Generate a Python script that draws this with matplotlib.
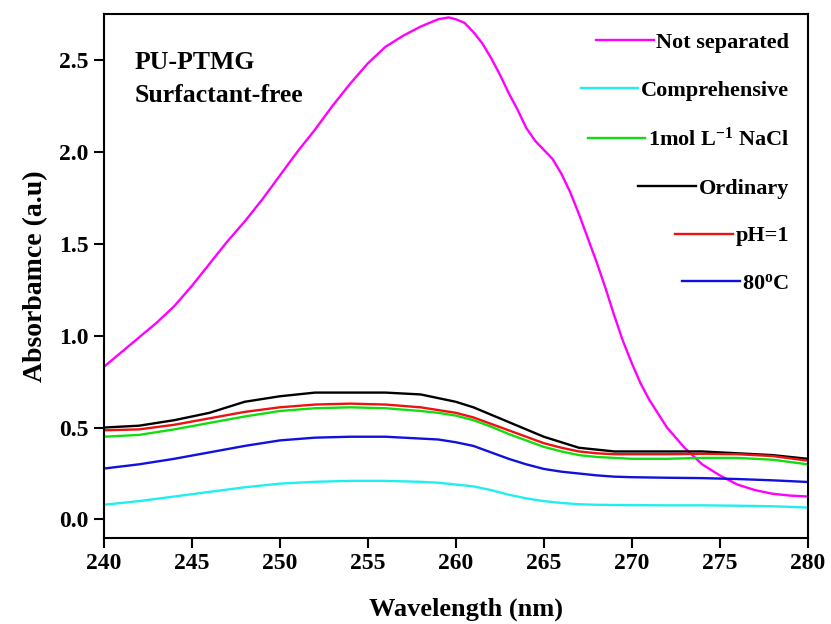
import matplotlib
matplotlib.use("Agg")
import matplotlib.pyplot as plt

# wavelengths (nm) for the five low curves
wl = [240, 242, 244, 246, 248, 250, 252, 254, 256, 258, 259, 260, 261, 262, 263,
      264, 265, 266, 267, 268, 269, 270, 272, 274, 276, 278, 280]

ordinary = [0.50, 0.51, 0.54, 0.58, 0.64, 0.67, 0.69, 0.69, 0.69, 0.68, 0.66, 0.64, 0.61, 0.57, 0.53,
            0.49, 0.45, 0.42, 0.39, 0.38, 0.37, 0.37, 0.37, 0.37, 0.36, 0.35, 0.33]
ph1 = [0.485, 0.49, 0.515, 0.55, 0.585, 0.61, 0.625, 0.63, 0.625, 0.61, 0.595, 0.58, 0.555, 0.52, 0.485,
       0.45, 0.415, 0.39, 0.37, 0.36, 0.355, 0.355, 0.355, 0.357, 0.355, 0.345, 0.32]
nacl = [0.45, 0.46, 0.49, 0.525, 0.56, 0.59, 0.605, 0.61, 0.605, 0.59, 0.58, 0.565, 0.54, 0.505, 0.465,
        0.43, 0.395, 0.37, 0.35, 0.34, 0.335, 0.33, 0.33, 0.335, 0.335, 0.325, 0.30]
hot80 = [0.277, 0.30, 0.33, 0.365, 0.40, 0.43, 0.445, 0.45, 0.45, 0.44, 0.435, 0.42, 0.40, 0.365, 0.33,
         0.30, 0.275, 0.26, 0.25, 0.24, 0.233, 0.23, 0.227, 0.225, 0.22, 0.213, 0.204]
compre = [0.08, 0.10, 0.125, 0.15, 0.175, 0.195, 0.205, 0.21, 0.21, 0.205, 0.20, 0.19, 0.18, 0.16, 0.135,
          0.115, 0.10, 0.09, 0.083, 0.08, 0.079, 0.078, 0.077, 0.077, 0.075, 0.072, 0.065]

# not separated sample, read on a finer grid
wl_ns = [240, 241, 242, 243, 244, 245, 246, 247, 248, 249, 250, 251, 252, 253, 254, 255, 256, 257,
         258, 259, 259.6, 260, 260.5, 261, 261.5, 262, 262.5, 263, 263.5, 264, 264.5, 265, 265.5,
         266, 266.5, 267, 267.5, 268, 268.5, 269, 269.5, 270, 270.5, 271, 272, 273, 274, 275, 276,
         277, 278, 279, 280]
not_sep = [0.83, 0.91, 0.99, 1.07, 1.16, 1.27, 1.39, 1.51, 1.62, 1.74, 1.87, 2.00, 2.12, 2.25, 2.37,
           2.48, 2.57, 2.63, 2.68, 2.72, 2.73, 2.72, 2.70, 2.65, 2.59, 2.51, 2.42, 2.32, 2.23, 2.13,
           2.06, 2.01, 1.96, 1.88, 1.78, 1.66, 1.53, 1.40, 1.26, 1.11, 0.97, 0.85, 0.74, 0.65, 0.50,
           0.39, 0.30, 0.24, 0.19, 0.16, 0.14, 0.13, 0.125]

plt.rcParams['font.family'] = ['Liberation Serif', 'DejaVu Serif']
plt.rcParams['font.weight'] = 'bold'
plt.rcParams['mathtext.fontset'] = 'custom'
plt.rcParams['mathtext.rm'] = 'Liberation Serif:bold'
plt.rcParams['mathtext.bf'] = 'Liberation Serif:bold'
plt.rcParams['mathtext.it'] = 'Liberation Serif:bold'
plt.rcParams['mathtext.default'] = 'rm'

fig = plt.figure(figsize=(8.31, 6.24), dpi=100)
ax = fig.add_axes([0.125, 0.138, 0.847, 0.84])

ax.plot(wl_ns, not_sep, color='#ff00ff', lw=1.7, label='Not separated')
ax.plot(wl, compre, color='#22eeee', lw=1.7, label='Comprehensive')
ax.plot(wl, nacl, color='#11dd11', lw=1.7, label='1mol L$^{-1}$ NaCl')
ax.plot(wl, ordinary, color='black', lw=1.7, label='Ordinary')
ax.plot(wl, ph1, color='#ee1111', lw=1.7, label='pH=1')
ax.plot(wl, hot80, color='#1111dd', lw=1.7, label='80$^{o}$C')

ax.set_xlim(240, 280)
ax.set_ylim(-0.1, 2.75)
ax.set_xticks(range(240, 281, 5))
ax.set_yticks([0.0, 0.5, 1.0, 1.5, 2.0, 2.5])
ax.tick_params(direction='out', length=7, width=1.5, labelsize=17, pad=4, top=False, right=False)
for s in ax.spines.values():
    s.set_linewidth(1.5)

ax.set_xlabel('Wavelength (nm)', fontsize=19, fontweight='bold')
ax.xaxis.set_label_coords(0.514, -0.113)
ax.set_ylabel('Absorbamce (a.u)', fontsize=20, fontweight='bold', labelpad=8)

ax.text(0.044, 0.928, 'PU-PTMG\nSurfactant-free', transform=ax.transAxes, fontsize=18.5,
        fontweight='bold', va='top', ha='left', linespacing=1.55)

leg = ax.legend(loc='upper right', frameon=False, fontsize=16, handlelength=2.6,
                handletextpad=0.1, labelspacing=1.22, borderaxespad=0.45)
# right-align entries so each line sits just before its text
for col in leg._legend_handle_box.get_children():
    col.align = 'right'

fig.savefig('out.png', dpi=100)
